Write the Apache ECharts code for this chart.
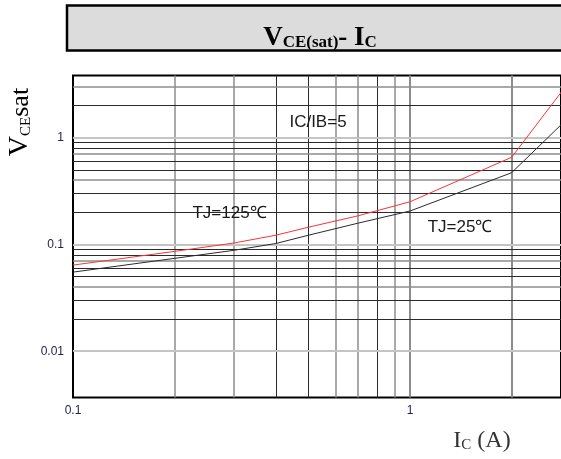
<!DOCTYPE html>
<html>
<head>
<meta charset="utf-8">
<script src="https://cdn.jsdelivr.net/npm/echarts@6/dist/echarts.min.js"></script>
<style>html,body{margin:0;padding:0;background:#fff;}#c{width:561px;height:459px;}</style>
</head>
<body>
<div id="c"></div>
<script>
// ---- data ----
const icValues = [0.1, 0.2, 0.3, 0.4, 0.5, 0.7, 1, 2, 3];
const vce125 = [0.064, 0.086, 0.103, 0.122, 0.145, 0.185, 0.251, 0.654, 3.5];
const vce25  = [0.055, 0.074, 0.088, 0.102, 0.122, 0.158, 0.2055, 0.469, 1.62];
const xTickLabels = [0.1, 1];
const yTickLabels = [0.01, 0.1, 1];
const xGridValues = [0.2, 0.3, 0.4, 0.5, 0.6, 0.7, 0.8, 0.9, 1, 2];
const yGridValues = [0.004, 0.005, 0.006, 0.007, 0.008, 0.009, 0.01,
  0.02, 0.03, 0.04, 0.05, 0.06, 0.07, 0.08, 0.09, 0.1,
  0.2, 0.3, 0.4, 0.5, 0.6, 0.7, 0.8, 0.9, 1, 2, 3];

const grayX = new Set([0.2, 0.3, 0.6, 0.7, 0.9, 1, 2]);
const lightY = new Set([0.01, 0.1, 1]);
const grayY = new Set([0.004, 0.007, 0.04, 0.07, 0.4, 0.7, 3]);

const gridLines = [];
xGridValues.forEach(v => gridLines.push({
  xAxis: v,
  lineStyle: grayX.has(v) ? {color: '#8c8c8c', width: (v === 1 || v === 2) ? 2 : 1.5, type: 'solid'} : {color: '#2a2a2a', width: 1, type: 'solid'}
}));
yGridValues.forEach(v => gridLines.push({
  yAxis: v,
  lineStyle: lightY.has(v) ? {color: '#c4c4c4', width: 2, type: 'solid'} :
             grayY.has(v) ? {color: '#8c8c8c', width: 1.5, type: 'solid'} : {color: '#2a2a2a', width: 1, type: 'solid'}
}));

const near = (v, arr) => arr.some(a => Math.abs(Math.log10(v) - Math.log10(a)) < 1e-6);
const chart = echarts.init(document.getElementById('c'), null, {renderer: 'canvas'});
chart.setOption({
  animation: false,
  backgroundColor: '#ffffff',
  grid: {left: 73, right: -2, top: 75.5, bottom: 61.5, show: true, borderColor: '#000', borderWidth: 2, backgroundColor: 'transparent'},
  xAxis: {
    type: 'log', logBase: 10, min: 0.1, max: 2.803,
    axisLine: {show: false}, axisTick: {show: false}, splitLine: {show: false}, minorSplitLine: {show: false},
    axisLabel: {
      customValues: xTickLabels, margin: 7, color: '#23234f', fontSize: 12, fontFamily: 'Liberation Sans',
      formatter: v => near(v, xTickLabels) ? String(+Number(v).toPrecision(3)) : ''
    }
  },
  yAxis: {
    type: 'log', logBase: 10, min: 0.003686, max: 3.815,
    axisLine: {show: false}, axisTick: {show: false}, splitLine: {show: false}, minorSplitLine: {show: false},
    axisLabel: {
      customValues: yTickLabels, margin: 9, color: '#23234f', fontSize: 12, fontFamily: 'Liberation Sans',
      formatter: v => near(v, yTickLabels) ? String(+Number(v).toPrecision(3)) : ''
    }
  },
  series: [
    {
      type: 'line', z: 1, data: [], silent: true,
      markLine: {silent: true, z: 1, symbol: ['none', 'none'], label: {show: false}, emphasis: {disabled: true}, data: gridLines}
    },
    {
      name: 'TJ=25', type: 'line', z: 10, symbol: 'none', clip: true,
      lineStyle: {color: '#2b2b2b', width: 1},
      data: icValues.map((x, i) => [x, vce25[i]])
    },
    {
      name: 'TJ=125', type: 'line', z: 11, symbol: 'none', clip: true,
      lineStyle: {color: '#ff3333', width: 1},
      data: icValues.map((x, i) => [x, vce125[i]])
    }
  ],
  graphic: [
    {type: 'rect', z: 0, shape: {x: 67, y: 5.5, width: 520, height: 45}, style: {fill: '#dcdcdc', stroke: '#000', lineWidth: 2.5}},
    {type: 'text', z: 1, x: 320, y: 38, style: {
      text: '{v|V}{s|CE(sat)}{v|- I}{s|C}', align: 'center', verticalAlign: 'middle',
      rich: {
        v: {fontFamily: 'Liberation Serif', fontWeight: 'bold', fontSize: 27, lineHeight: 27, fill: '#000', verticalAlign: 'bottom'},
        s: {fontFamily: 'Liberation Serif', fontWeight: 'bold', fontSize: 17, lineHeight: 17, fill: '#000', verticalAlign: 'bottom'}
      }
    }},
    {type: 'text', x: 20, y: 122, rotation: Math.PI / 2, style: {
      text: '{v|V}{s|CE}{t|sat}', align: 'center', verticalAlign: 'middle',
      rich: {
        v: {fontFamily: 'Liberation Serif', fontSize: 28, lineHeight: 28, fill: '#000', verticalAlign: 'bottom'},
        s: {fontFamily: 'Liberation Serif', fontSize: 15, lineHeight: 15, fill: '#000', verticalAlign: 'bottom'},
        t: {fontFamily: 'Liberation Serif', fontSize: 26, lineHeight: 26, fill: '#000', verticalAlign: 'bottom'}
      }
    }},
    {type: 'text', x: 482, y: 441, style: {
      text: '{v|I}{s|C}{v| (A)}', align: 'center', verticalAlign: 'middle',
      rich: {
        v: {fontFamily: 'Liberation Serif', fontSize: 24, lineHeight: 24, fill: '#333', verticalAlign: 'bottom'},
        s: {fontFamily: 'Liberation Serif', fontSize: 15, lineHeight: 15, fill: '#333', verticalAlign: 'bottom'}
      }
    }},
    {type: 'text', x: 318, y: 122, z: 20, style: {text: 'IC/IB=5', fontFamily: 'Liberation Sans', fontSize: 17, fill: '#1a1a1a', align: 'center', verticalAlign: 'middle'}},
    {type: 'text', x: 229.5, y: 213, z: 20, style: {text: 'TJ=125℃', fontFamily: 'Liberation Sans', fontSize: 17, fill: '#1a1a1a', align: 'center', verticalAlign: 'middle'}},
    {type: 'text', x: 460, y: 227, z: 20, style: {text: 'TJ=25℃', fontFamily: 'Liberation Sans', fontSize: 17, fill: '#1a1a1a', align: 'center', verticalAlign: 'middle'}}
  ]
});
</script>
</body>
</html>
